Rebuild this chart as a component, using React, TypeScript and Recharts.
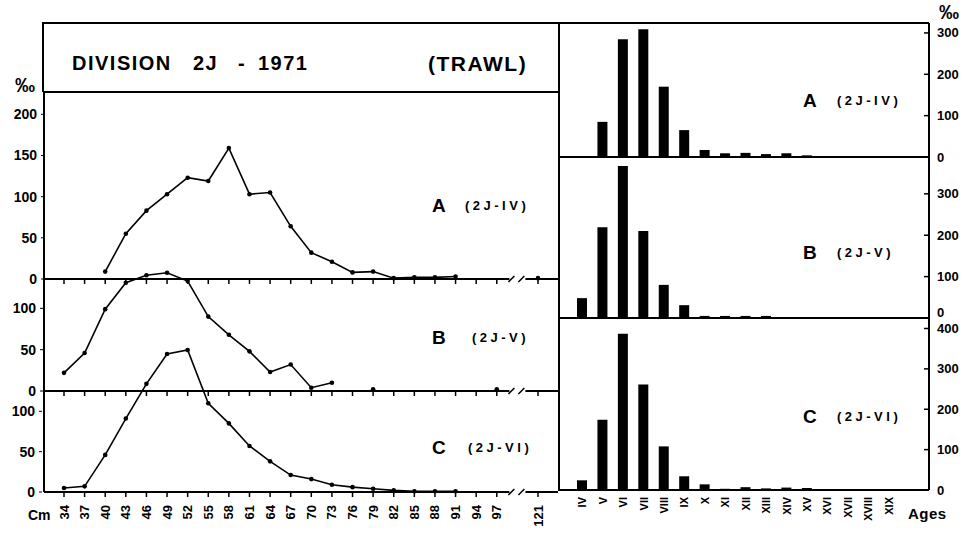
import React from "react";
import {
  LineChart,
  Line,
  BarChart,
  Bar,
  XAxis,
  YAxis,
  ReferenceLine,
  ReferenceDot,
} from "recharts";

const FONT = '"Liberation Sans", Arial, Helvetica, sans-serif';

// length classes (cm); "//" is the axis break before 121
const lengths = ["34", "37", "40", "43", "46", "49", "52", "55", "58", "61", "64", "67", "70", "73", "76", "79", "82", "85", "88", "91", "94", "97", "//", "121"];
const lenA = [null, null, 9, 55, 83, 103, 123, 119, 159, 103, 105, 64, 32, 21, 8, 9, 1, 2, 2, 3, null, null, null, 1];
const lenB = [22, 46, 99, 131, 140, 143, 133, 90, 68, 48, 23, 32, 4, 10, null, 2, null, null, null, null, null, 2, null, null];
const lenC = [5, 7, 46, 91, 134, 171, 176, 110, 85, 57, 38, 21, 16, 9, 6, 4, 2, 1, 1, 1, null, null, null, null];

const ages = ["IV", "V", "VI", "VII", "VIII", "IX", "X", "XI", "XII", "XIII", "XIV", "XV", "XVI", "XVII", "XVIII", "XIX"];
const ageA = [1, 85, 285, 309, 170, 65, 17, 9, 10, 7, 9, 4, 1, 0, 0, 2];
const ageB = [48, 219, 367, 210, 80, 31, 5, 5, 5, 5, 2, 2, 1, 1, 0, 0];
const ageC = [24, 174, 387, 261, 108, 34, 14, 3, 7, 4, 6, 5, 1, 1, 0, 2];

const lenTicksA = [0, 50, 100, 150, 200];
const lenTicksBC = [0, 50, 100];
const ageTicks = [0, 100, 200, 300];
const ageTicksC = [0, 100, 200, 300, 400];

const lengthRows = lengths.map((len, i) => ({ len, a: lenA[i], b: lenB[i], c: lenC[i] }));
const ageRows = ages.map((age, i) => ({ age, a: ageA[i], b: ageB[i], c: ageC[i] }));

const axisStroke = { stroke: "#000", strokeWidth: 2 };
const leftTick = { fontSize: 14, fontWeight: 700, fill: "#000", fontFamily: FONT };
const dotStyle = { r: 2.3, fill: "#000", stroke: "#000", strokeWidth: 0 };

const BreakMark = ({ cx, cy }: any) => (
  <g>
    <rect x={cx - 8} y={cy - 3} width={16} height={6} fill="#fff" />
    <line x1={cx - 9} y1={cy + 3} x2={cx - 3} y2={cy - 3} stroke="#000" strokeWidth={1.5} />
    <line x1={cx + 1} y1={cy + 3} x2={cx + 7} y2={cy - 3} stroke="#000" strokeWidth={1.5} />
  </g>
);

const LengthTick = (props: any) => {
  const { x, y, payload } = props;
  if (payload.value === "//") return <BreakMark cx={x} cy={y} />;
  return (
    <g transform={`translate(${x},${y})`}>
      <line x1={0} y1={0} x2={0} y2={5} stroke="#000" strokeWidth={1.5} />
      <text
        transform="rotate(-90)"
        x={-13}
        y={0}
        dy={4.5}
        textAnchor="end"
        fontSize={13}
        fontWeight="bold"
        fontFamily={FONT}
        fill="#000"
      >
        {payload.value}
      </text>
    </g>
  );
};

const AgeTick = (props: any) => {
  const { x, y, payload } = props;
  return (
    <text
      transform={`translate(${x},${y}) rotate(-90)`}
      x={-7}
      y={0}
      dy={4}
      textAnchor="end"
      fontSize={11}
      fontWeight="bold"
      fontFamily={FONT}
      fill="#000"
    >
      {payload.value}
    </text>
  );
};

const RightTick = (props: any) => {
  const { x, y, payload, zeroLift = 0 } = props;
  const ty = payload.value === 0 ? y - zeroLift : y;
  return (
    <g>
      <line x1={x - 5} y1={y} x2={x} y2={y} stroke="#000" strokeWidth={1.5} />
      <text x={x + 8} y={ty} dy={4.5} fontSize={13} fontWeight="bold" fontFamily={FONT} fill="#000">
        {payload.value}
      </text>
    </g>
  );
};

const baselineTicks = (axisId: string) =>
  lengths
    .filter((l) => l !== "//")
    .map((l) => (
      <ReferenceLine
        key={`${axisId}-${l}`}
        yAxisId={axisId}
        segment={[
          { x: l, y: 0 },
          { x: l, y: -6 },
        ]}
        stroke="#000"
        strokeWidth={1.5}
      />
    ));

const LengthPanel = () => (
  <LineChart width={560} height={535} data={lengthRows} margin={{ top: 92, right: 2, bottom: 0, left: 41 }}>
    <XAxis
      dataKey="len"
      height={43}
      interval={0}
      padding={{ left: 20, right: 20 }}
      tickLine={false}
      tickSize={0}
      tickMargin={0}
      tick={<LengthTick />}
      axisLine={axisStroke}
    />
    <YAxis yAxisId="a" type="number" domain={[-258.7, 227.1]} ticks={lenTicksA} interval={0} width={1} tickSize={3} tickMargin={4} tick={leftTick} tickLine={{ stroke: "#000" }} axisLine={axisStroke} />
    <YAxis yAxisId="b" type="number" domain={[-122.1, 361.6]} ticks={lenTicksBC} interval={0} width={1} tickSize={3} tickMargin={4} tick={leftTick} tickLine={{ stroke: "#000" }} axisLine={false} />
    <YAxis yAxisId="c" type="number" domain={[0, 495.7]} ticks={lenTicksBC} interval={0} width={1} tickSize={3} tickMargin={4} tick={leftTick} tickLine={{ stroke: "#000" }} axisLine={false} />
    <ReferenceLine yAxisId="a" y={0} stroke="#000" strokeWidth={2} />
    <ReferenceLine yAxisId="b" y={0} stroke="#000" strokeWidth={2} />
    {baselineTicks("a")}
    {baselineTicks("b")}
    <ReferenceDot yAxisId="a" x="//" y={0} r={1} shape={(p: any) => <BreakMark cx={p.cx} cy={p.cy} />} />
    <ReferenceDot yAxisId="b" x="//" y={0} r={1} shape={(p: any) => <BreakMark cx={p.cx} cy={p.cy} />} />
    <Line yAxisId="a" dataKey="a" stroke="#000" strokeWidth={1.6} dot={dotStyle} isAnimationActive={false} />
    <Line yAxisId="b" dataKey="b" stroke="#000" strokeWidth={1.6} dot={dotStyle} isAnimationActive={false} />
    <Line yAxisId="c" dataKey="c" stroke="#000" strokeWidth={1.6} dot={dotStyle} isAnimationActive={false} />
  </LineChart>
);

const AgePanel = ({ dataKey, domain, ticks, height, marginTop, marginBottom, showAxis, zeroLift }: any) => (
  <BarChart
    width={412}
    height={height}
    data={ageRows}
    margin={{ top: marginTop, right: 0, bottom: marginBottom, left: 4 }}
    barSize={10}
  >
    <XAxis
      dataKey="age"
      hide={!showAxis}
      height={45}
      interval={0}
      padding={{ left: 13, right: 30 }}
      tickLine={false}
      tickSize={0}
      tickMargin={0}
      tick={<AgeTick />}
      axisLine={axisStroke}
    />
    <YAxis
      yAxisId="r"
      orientation="right"
      type="number"
      domain={domain}
      ticks={ticks}
      interval={0}
      width={38}
      tickLine={false}
      tickSize={0}
      tickMargin={0}
      tick={<RightTick zeroLift={zeroLift} />}
      axisLine={axisStroke}
    />
    <ReferenceLine yAxisId="r" y={0} stroke="#000" strokeWidth={2} />
    <Bar yAxisId="r" dataKey={dataKey} fill="#000" isAnimationActive={false} />
  </BarChart>
);

const txt = { fontFamily: FONT, fontWeight: 700, fill: "#000" } as const;

const Overlay = () => (
  <svg width={967} height={535} style={{ position: "absolute", left: 0, top: 0, pointerEvents: "none" }}>
    <line x1={43} y1={23} x2={929} y2={23} stroke="#000" strokeWidth={2} />
    <line x1={43} y1={22} x2={43} y2={92} stroke="#000" strokeWidth={2} />
    <line x1={43} y1={92} x2={559} y2={92} stroke="#000" strokeWidth={2} />
    <line x1={559} y1={22} x2={559} y2={491} stroke="#000" strokeWidth={2} />

    <text {...txt} fontSize={20} y={63} dy={7}>
      <tspan x={72} letterSpacing={1.5}>DIVISION</tspan>
      <tspan x={193} letterSpacing={1.5}>2J</tspan>
      <tspan x={238}>-</tspan>
      <tspan x={258} letterSpacing={1.5}>1971</tspan>
    </text>
    <text {...txt} fontSize={21} x={428} y={63} dy={7.5} letterSpacing={1.5}>(TRAWL)</text>

    <text {...txt} fontSize={20} x={25} y={85} dy={7} textAnchor="middle">‰</text>
    <text {...txt} fontSize={20} x={949} y={12} dy={7} textAnchor="middle">‰</text>
    <text {...txt} fontSize={14} x={28} y={515} dy={5}>Cm</text>
    <text {...txt} fontSize={15} x={908} y={513} dy={5.5} letterSpacing={0.5}>Ages</text>

    <text {...txt} fontSize={19} x={432} y={205} dy={7}>A</text>
    <text {...txt} fontSize={13} x={465} y={205} dy={4.7} letterSpacing={3.5}>(2J-IV)</text>
    <text {...txt} fontSize={19} x={432} y={337} dy={7}>B</text>
    <text {...txt} fontSize={13} x={472} y={337} dy={4.7} letterSpacing={3.5}>(2J-V)</text>
    <text {...txt} fontSize={19} x={432} y={447} dy={7}>C</text>
    <text {...txt} fontSize={13} x={468} y={447} dy={4.7} letterSpacing={3.5}>(2J-VI)</text>

    <text {...txt} fontSize={19} x={803} y={100} dy={7}>A</text>
    <text {...txt} fontSize={13} x={837} y={100} dy={4.7} letterSpacing={3.5}>(2J-IV)</text>
    <text {...txt} fontSize={19} x={803} y={252} dy={7}>B</text>
    <text {...txt} fontSize={13} x={837} y={252} dy={4.7} letterSpacing={3.5}>(2J-V)</text>
    <text {...txt} fontSize={19} x={803} y={416} dy={7}>C</text>
    <text {...txt} fontSize={13} x={837} y={416} dy={4.7} letterSpacing={3.5}>(2J-VI)</text>
  </svg>
);

export default function App() {
  return (
    <div style={{ position: "absolute", left: 0, top: 0, width: 967, height: 535, background: "#fff" }}>
      <div style={{ position: "absolute", left: 0, top: 0 }}>
        <LengthPanel />
      </div>
      <div style={{ position: "absolute", left: 555, top: 0 }}>
        <AgePanel dataKey="a" domain={[0, 324]} ticks={ageTicks} height={170} marginTop={23} marginBottom={13} showAxis={false} zeroLift={0} />
      </div>
      <div style={{ position: "absolute", left: 555, top: 157 }}>
        <AgePanel dataKey="b" domain={[0, 389]} ticks={ageTicks} height={174} marginTop={0} marginBottom={13} showAxis={false} zeroLift={6} />
      </div>
      <div style={{ position: "absolute", left: 555, top: 318 }}>
        <AgePanel dataKey="c" domain={[0, 426]} ticks={ageTicksC} height={217} marginTop={0} marginBottom={0} showAxis={true} zeroLift={0} />
      </div>
      <Overlay />
    </div>
  );
}
